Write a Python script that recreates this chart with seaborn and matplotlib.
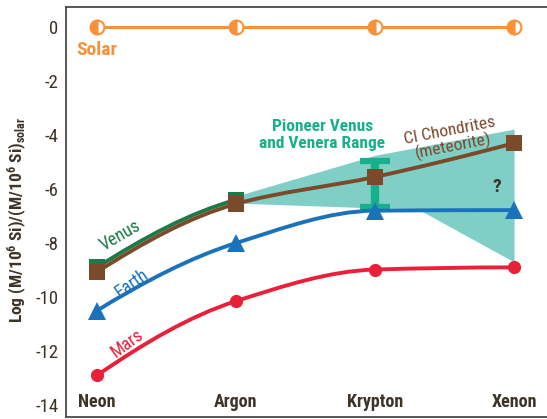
import numpy as np
import seaborn as sns
import matplotlib.pyplot as plt
from matplotlib.path import Path
from matplotlib.patches import PathPatch

elements = ['Neon', 'Argon', 'Krypton', 'Xenon']
solar = [0.0, 0.0, 0.0, 0.0]
venus = [-8.9, -6.4]
ci_chondrites = [-9.07, -6.55, -5.55, -4.3]
earth = [-10.5, -8.0, -6.8, -6.78]
mars = [-12.9, -10.15, -8.98, -8.9]

# Pioneer Venus / Venera range at Krypton
pioneer_x = 2
pioneer_low, pioneer_high = -6.67, -4.96

# shaded uncertainty band
band_x = [1, 2, 2.3, 3]
band_upper = [-6.26, -4.75, -4.46, -3.78]
band_lower = [-6.52, -6.7, -6.72, -8.7]

C_SOLAR = '#f7923a'
C_VENUS = '#1b7a47'
C_CI = '#7a4a2b'
C_EARTH = '#1a72bb'
C_MARS = '#e8203a'
C_BAND = '#80cfc6'
C_PIONEER = '#17b08a'
C_TEXT = '#3d3327'

FONT = ['Roboto Condensed', 'Liberation Sans Narrow', 'Roboto', 'DejaVu Sans']


def pchip_slopes(y):
    y = np.asarray(y, float)
    s = np.diff(y)
    n = len(y)
    m = np.zeros(n)
    for k in range(1, n - 1):
        if s[k - 1] * s[k] > 0:
            m[k] = 2 / (1 / s[k - 1] + 1 / s[k])
    if n > 2:
        m0 = (3 * s[0] - s[1]) / 2
        m[0] = m0 if m0 * s[0] > 0 else 0
        mn = (3 * s[-1] - s[-2]) / 2
        m[-1] = mn if mn * s[-1] > 0 else 0
    else:
        m[:] = s[0]
    return m


def draw_curve(ax, x, y, color, slopes=None, lw=2.8, z=3):
    if slopes is None:
        slopes = pchip_slopes(y)
    verts = [(x[0], y[0])]
    codes = [Path.MOVETO]
    for i in range(len(x) - 1):
        h = x[i + 1] - x[i]
        verts += [(x[i] + h / 3, y[i] + slopes[i] * h / 3),
                  (x[i + 1] - h / 3, y[i + 1] - slopes[i + 1] * h / 3),
                  (x[i + 1], y[i + 1])]
        codes += [Path.CURVE4] * 3
    ax.add_patch(PathPatch(Path(verts, codes), fill=False, edgecolor=color,
                           lw=lw, zorder=z, capstyle='round'))


sns.set_theme(style='white')
plt.rcParams['font.family'] = FONT
plt.rcParams['mathtext.default'] = 'regular'

fig = plt.figure(figsize=(5.47, 4.19), dpi=100)
ax = fig.add_axes([66 / 547, 2 / 419, 1 - 66 / 547, 410 / 419])

x = np.arange(len(elements))

# band and Pioneer range
ax.fill_between(band_x, band_lower, band_upper, color=C_BAND, lw=0, zorder=1)
mid = (pioneer_low + pioneer_high) / 2
ax.errorbar(pioneer_x, mid, yerr=(pioneer_high - pioneer_low) / 2, fmt='none',
            ecolor=C_PIONEER, elinewidth=6, capsize=11, capthick=4.5, zorder=2)

# curves
ci_slopes = pchip_slopes(ci_chondrites)
draw_curve(ax, x[:2], venus, C_VENUS, slopes=ci_slopes[:2], z=3)
draw_curve(ax, x, ci_chondrites, C_CI, z=4)
draw_curve(ax, x, earth, C_EARTH, z=3)
draw_curve(ax, x, mars, C_MARS, z=3)

# solar line with half-filled markers
sns.lineplot(x=x, y=solar, ax=ax, color=C_SOLAR, lw=2.2, marker='o', ms=10,
             fillstyle='left', markerfacecoloralt='white', markeredgecolor=C_SOLAR,
             markeredgewidth=1.5, zorder=5)

# markers
sns.lineplot(x=x[:2], y=venus, ax=ax, color=C_VENUS, linestyle='', marker='s',
             ms=12, markeredgewidth=0, zorder=5)
sns.lineplot(x=x, y=ci_chondrites, ax=ax, color=C_CI, linestyle='', marker='s',
             ms=12, markeredgewidth=0, zorder=6)
sns.lineplot(x=x, y=earth, ax=ax, color=C_EARTH, linestyle='', marker='^',
             ms=13, markeredgewidth=0, zorder=6)
sns.lineplot(x=x, y=mars, ax=ax, color=C_MARS, linestyle='', marker='o',
             ms=9.5, markeredgewidth=0, zorder=6)

# labels
ax.text(0, -0.85, 'Solar', color=C_SOLAR, fontsize=14, fontweight='bold',
        ha='center', va='center')
ax.text(0.17, -7.72, 'Venus', color=C_VENUS, fontsize=13, rotation=30,
        ha='center', va='center')
ax.text(0.25, -9.5, 'Earth', color=C_EARTH, fontsize=13, rotation=35,
        ha='center', va='center')
ax.text(0.22, -11.7, 'Mars', color=C_MARS, fontsize=13, rotation=36,
        ha='center', va='center')
ax.text(1.62, -4.0, 'Pioneer Venus\nand Venera Range', color=C_PIONEER,
        fontsize=12.5, fontweight='bold', ha='center', va='center', linespacing=1.1)
ax.text(2.55, -4.15, 'CI Chondrites\n(meteorite)', color=C_CI, fontsize=12.5,
        rotation=11, ha='center', va='center', linespacing=0.95,
        rotation_mode='anchor')
ax.text(2.88, -5.93, '?', color=C_TEXT, fontsize=14, fontweight='bold',
        ha='center', va='center')

ax.set_xlim(-0.223, 3.237)
ax.set_ylim(-14.44, 0.74)
ax.set_xticks(x)
ax.set_xticklabels(elements, fontsize=13, fontweight='bold', color=C_TEXT)
ax.set_yticks(np.arange(-14, 1, 2))
ax.set_yticklabels([str(v) for v in range(-14, 1, 2)], fontsize=13.5, color=C_TEXT)
ax.tick_params(axis='x', length=0, pad=-17)
ax.tick_params(axis='y', length=0, pad=5.5)

for side in ['left', 'top', 'bottom']:
    ax.spines[side].set_color('#4a4a4a')
    ax.spines[side].set_linewidth(1.3)
ax.spines['right'].set_visible(False)

fig.text(17 / 547, 1 - 220 / 419,
         r'Log (M/10$^6$ Si)/(M/10$^6$ Si)$_{solar}$', rotation=90,
         fontsize=12.5, fontweight='bold', color=C_TEXT, ha='center', va='center')

fig.savefig('out.png', dpi=100)
